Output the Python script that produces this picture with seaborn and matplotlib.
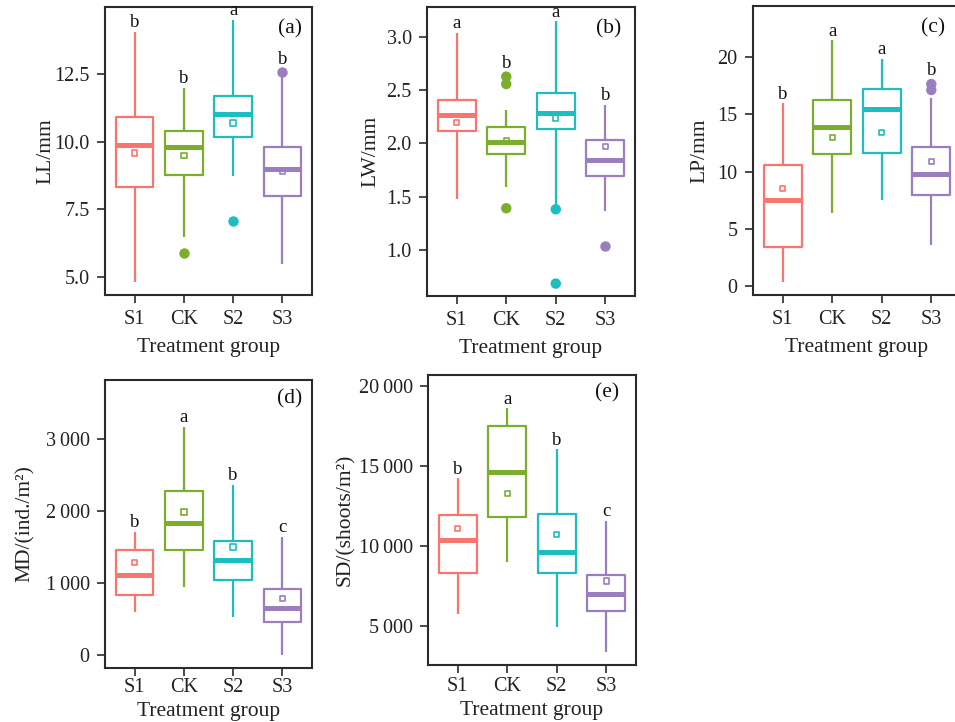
import numpy as np
import pandas as pd
import matplotlib
matplotlib.use("Agg")
import matplotlib.pyplot as plt
import seaborn as sns

# ---------------- data ----------------
groups = ["S1", "CK", "S2", "S3"]
palette = ["#F8766D", "#7CAE2E", "#1DBEC2", "#9B7EC0"]

# five-number summaries per group: [lower whisker, Q1, median, Q3, upper whisker]
ll_stats = [[4.81, 8.31, 9.88, 10.89, 14.07],
            [6.48, 8.77, 9.81, 10.40, 11.98],
            [8.74, 10.15, 11.02, 11.67, 14.50],
            [5.47, 7.99, 9.00, 9.81, 12.47]]
ll_means = [9.57, 9.49, 10.69, 8.89]
ll_out_groups = ["CK", "S2", "S3"]
ll_out_values = [5.89, 7.06, 12.56]
ll_letters = ["b", "b", "a", "b"]

lw_stats = [[1.48, 2.12, 2.27, 2.41, 3.04],
            [1.59, 1.90, 2.01, 2.16, 2.32],
            [1.39, 2.135, 2.29, 2.48, 3.15],
            [1.36, 1.695, 1.846, 2.035, 2.365]]
lw_means = [2.20, 2.03, 2.24, 1.97]
lw_out_groups = ["CK", "CK", "CK", "S2", "S2", "S3"]
lw_out_values = [2.63, 2.56, 1.39, 1.38, 0.68, 1.03]
lw_letters = ["a", "b", "a", "b"]

lp_stats = [[0.35, 3.36, 7.50, 10.60, 15.97],
            [6.34, 11.50, 13.93, 16.30, 21.50],
            [7.50, 11.60, 15.50, 17.20, 19.90],
            [3.56, 7.94, 9.75, 12.18, 16.44]]
lp_means = [8.53, 12.96, 13.43, 10.86]
lp_out_groups = ["S3", "S3"]
lp_out_values = [17.66, 17.14]
lp_letters = ["b", "a", "a", "b"]

md_stats = [[591, 835, 1103, 1449, 1712],
            [937, 1449, 1827, 2275, 3166],
            [521, 1034, 1320, 1578, 2358],
            [0, 452, 655, 914, 1634]]
md_means = [1283, 1980, 1495, 785]
md_out_groups = []
md_out_values = []
md_letters = ["b", "a", "b", "c"]

sd_stats = [[5742, 8338, 10353, 11911, 14216],
            [9024, 11807, 14590, 17498, 18578],
            [4974, 8338, 9626, 11994, 16023],
            [3416, 5971, 7009, 8193, 11579]]
sd_means = [11101, 13261, 10727, 7819]
sd_out_groups = []
sd_out_values = []
sd_letters = ["b", "a", "b", "c"]

ylabels = ["LL/mm", "LW/mm", "LP/mm", "MD/(ind./m²)", "SD/(shoots/m²)"]
panel_tags = ["(a)", "(b)", "(c)", "(d)", "(e)"]
yticks_list = [[5.0, 7.5, 10.0, 12.5],
               [1.0, 1.5, 2.0, 2.5, 3.0],
               [0, 5, 10, 15, 20],
               [0, 1000, 2000, 3000],
               [5000, 10000, 15000, 20000]]
ytick_labels = [["5.0", "7.5", "10.0", "12.5"],
                ["1.0", "1.5", "2.0", "2.5", "3.0"],
                ["0", "5", "10", "15", "20"],
                ["0", "1\u2009000", "2\u2009000", "3\u2009000"],
                ["5\u2009000", "10\u2009000", "15\u2009000", "20\u2009000"]]
ylims = [(4.32, 14.98), (0.563, 3.286), (-0.82, 24.5), (-180, 3812), (2585, 20655)]

# ---------------- style ----------------
sns.set_style("ticks")
plt.rcParams["font.family"] = ["Liberation Serif", "DejaVu Serif"]
plt.rcParams["axes.edgecolor"] = "#2b2b2b"
plt.rcParams["axes.linewidth"] = 1.5

W, H = 955, 722
fig = plt.figure(figsize=(W / 100, H / 100), dpi=100)

# axes rectangles in pixels: left, top, right, bottom
rects = [(105, 7, 312, 295), (427, 7, 635, 296), (753, 6, 961, 295),
         (105, 380, 312, 668), (428, 375, 636, 665)]
tag_pos = [(0.894, 0.924), (0.875, 0.924), (0.864, 0.924), (0.894, 0.933), (0.86, 0.938)]
ylabel_x = [-0.285, -0.27, -0.255, -0.385, -0.395]
xtick_pad = [5, 5, 5, 1, 2.5]
xlabel_pad = [6, 6, 6, 3.5, 4]

panels = [
    (ll_stats, ll_means, ll_out_groups, ll_out_values, ll_letters),
    (lw_stats, lw_means, lw_out_groups, lw_out_values, lw_letters),
    (lp_stats, lp_means, lp_out_groups, lp_out_values, lp_letters),
    (md_stats, md_means, md_out_groups, md_out_values, md_letters),
    (sd_stats, sd_means, sd_out_groups, sd_out_values, sd_letters),
]

for k, (stats, means, og, ov, letters) in enumerate(panels):
    l, t, r, b = rects[k]
    ax = fig.add_axes([l / W, 1 - b / H, (r - l) / W, (b - t) / H])

    rows = []
    for g, s in zip(groups, stats):
        for v in s:
            rows.append({"group": g, "value": v})
    df = pd.DataFrame(rows)

    sns.boxplot(data=df, x="group", y="value", hue="group", order=groups,
                hue_order=groups, palette=palette, fill=False, width=0.76,
                whis=(0, 100), showcaps=False, showfliers=False, linewidth=1.6,
                medianprops={"linewidth": 3.6}, legend=False, ax=ax)

    if len(ov) > 0:
        odf = pd.DataFrame({"group": og, "value": ov})
        sns.stripplot(data=odf, x="group", y="value", hue="group", order=groups,
                      hue_order=groups, palette=palette, jitter=False, size=7.5,
                      linewidth=0, legend=False, ax=ax, zorder=3)

    xs = np.arange(len(groups))
    ax.scatter(xs, means, marker="s", s=15, facecolors="none",
               edgecolors=palette, linewidths=1.2, zorder=4)

    for i, g in enumerate(groups):
        top = stats[i][4]
        offset = 0.5
        gvals = [v for gg, v in zip(og, ov) if gg == g]
        if gvals and max(gvals) > top:
            top = max(gvals)
            offset = 3.5
        ax.annotate(letters[i], (i, top), xytext=(0, offset), textcoords="offset points",
                    ha="center", va="bottom", fontsize=13.5, color="#111111",
                    annotation_clip=False)

    ax.set_xlim(-0.6, 3.6)
    ax.set_ylim(*ylims[k])
    ax.set_yticks(yticks_list[k])
    ax.set_yticklabels(ytick_labels[k])
    ax.set_xticks(xs)
    ax.set_xticklabels(groups)
    ax.tick_params(axis="both", labelsize=14.5, length=6, width=1.2,
                   color="#2b2b2b", labelcolor="#222222")
    ax.tick_params(axis="y", pad=5)
    ax.tick_params(axis="x", pad=xtick_pad[k])
    ax.set_xlabel("Treatment group", fontsize=15.5, color="#222222",
                  labelpad=xlabel_pad[k])
    ax.set_ylabel(ylabels[k], fontsize=15.5, color="#222222")
    ax.yaxis.set_label_coords(ylabel_x[k], 0.5)
    ax.yaxis.label.set_va("center")
    for sp in ax.spines.values():
        sp.set_visible(True)
        sp.set_color("#2b2b2b")
        sp.set_linewidth(1.5)
    ax.text(tag_pos[k][0], tag_pos[k][1], panel_tags[k], transform=ax.transAxes,
            ha="center", va="center", fontsize=15.5, color="#111111")

fig.savefig("out.png", dpi=100)
